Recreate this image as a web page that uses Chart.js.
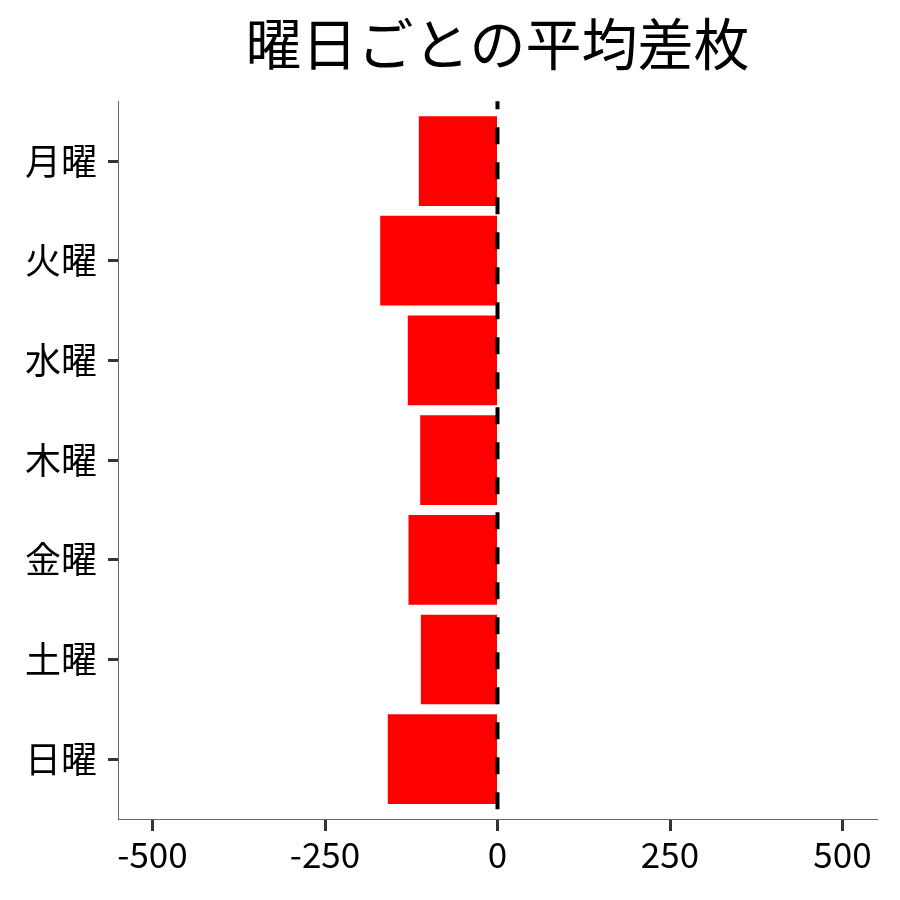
<!DOCTYPE html>
<html>
<head>
<meta charset="utf-8">
<script src="https://cdn.jsdelivr.net/npm/chart.js@4"></script>
<style>
  body { margin: 0; background: #fff; }
  canvas { display: block; }
</style>
</head>
<body>
<canvas id="grafico" width="900" height="900"></canvas>
<script>
// datos
const dias = ['月曜', '火曜', '水曜', '木曜', '金曜', '土曜', '日曜'];
const promedioDiff = [-114, -170, -130, -112, -129, -111, -159];
const ticksX = [-500, -250, 0, 250, 500];

const FUENTE = '"Noto Sans CJK JP", "Noto Sans", sans-serif';

// línea discontinua en x = 0
const lineaCero = {
    id: 'lineaCero',
    afterDatasetsDraw(chart) {
        const { ctx, chartArea, scales } = chart;
        const x = scales.x.getPixelForValue(0);
        ctx.save();
        ctx.strokeStyle = '#000';
        ctx.lineWidth = 4;
        ctx.setLineDash([17, 18]);
        ctx.lineDashOffset = 9;
        ctx.beginPath();
        ctx.moveTo(x, chartArea.top);
        ctx.lineTo(x, chartArea.bottom);
        ctx.stroke();
        ctx.restore();
    }
};

// centrar el título sobre el área del gráfico
const tituloCentrado = {
    id: 'tituloCentrado',
    afterLayout(chart) {
        if (chart.titleBlock) {
            chart.titleBlock.left = chart.chartArea.left;
            chart.titleBlock.right = chart.chartArea.right;
        }
    }
};

new Chart(document.getElementById('grafico'), {
    type: 'bar',
    data: {
        datasets: [{
            data: promedioDiff.map((v, i) => ({ x: v, y: i + 1 })),
            backgroundColor: '#ff0000',
            borderWidth: 0,
            categoryPercentage: 1,
            barPercentage: 0.9,
        }],
    },
    options: {
        indexAxis: 'y',
        responsive: false,
        animation: false,
        devicePixelRatio: 1,
        layout: { padding: { left: 0, right: 23, top: 0, bottom: 0 } },
        plugins: {
            legend: { display: false },
            tooltip: { enabled: false },
            title: {
                display: true,
                text: '曜日ごとの平均差枚',
                color: '#000',
                font: { family: FUENTE, size: 56, weight: 'normal', lineHeight: 1.2 },
                padding: { top: 10, bottom: 24 },
            },
        },
        scales: {
            x: {
                type: 'linear',
                min: -550,
                max: 550,
                afterBuildTicks: (scale) => { scale.ticks = ticksX.map((v) => ({ value: v })); },
                afterFit: (scale) => { scale.height = 81; },
                grid: {
                    drawOnChartArea: false,
                    drawTicks: true,
                    tickLength: 12,
                    tickWidth: 3,
                    tickColor: '#333',
                },
                border: { display: true, color: '#666', width: 1 },
                ticks: {
                    color: '#000',
                    padding: 3,
                    maxRotation: 0,
                    font: { family: FUENTE, size: 35 },
                    callback: (v) => String(v),
                },
            },
            y: {
                type: 'linear',
                min: 0.4,
                max: 7.6,
                reverse: true,
                offset: false,
                afterBuildTicks: (scale) => { scale.ticks = dias.map((d, i) => ({ value: i + 1 })); },
                afterFit: (scale) => { scale.width = 118; },
                grid: {
                    offset: false,
                    drawOnChartArea: false,
                    drawTicks: true,
                    tickLength: 10,
                    tickWidth: 3,
                    tickColor: '#333',
                },
                border: { display: true, color: '#666', width: 1 },
                ticks: {
                    color: '#000',
                    padding: 11,
                    font: { family: FUENTE, size: 36 },
                    callback: (v) => dias[Math.round(v) - 1] || '',
                },
            },
        },
    },
    plugins: [lineaCero, tituloCentrado],
});
</script>
</body>
</html>
